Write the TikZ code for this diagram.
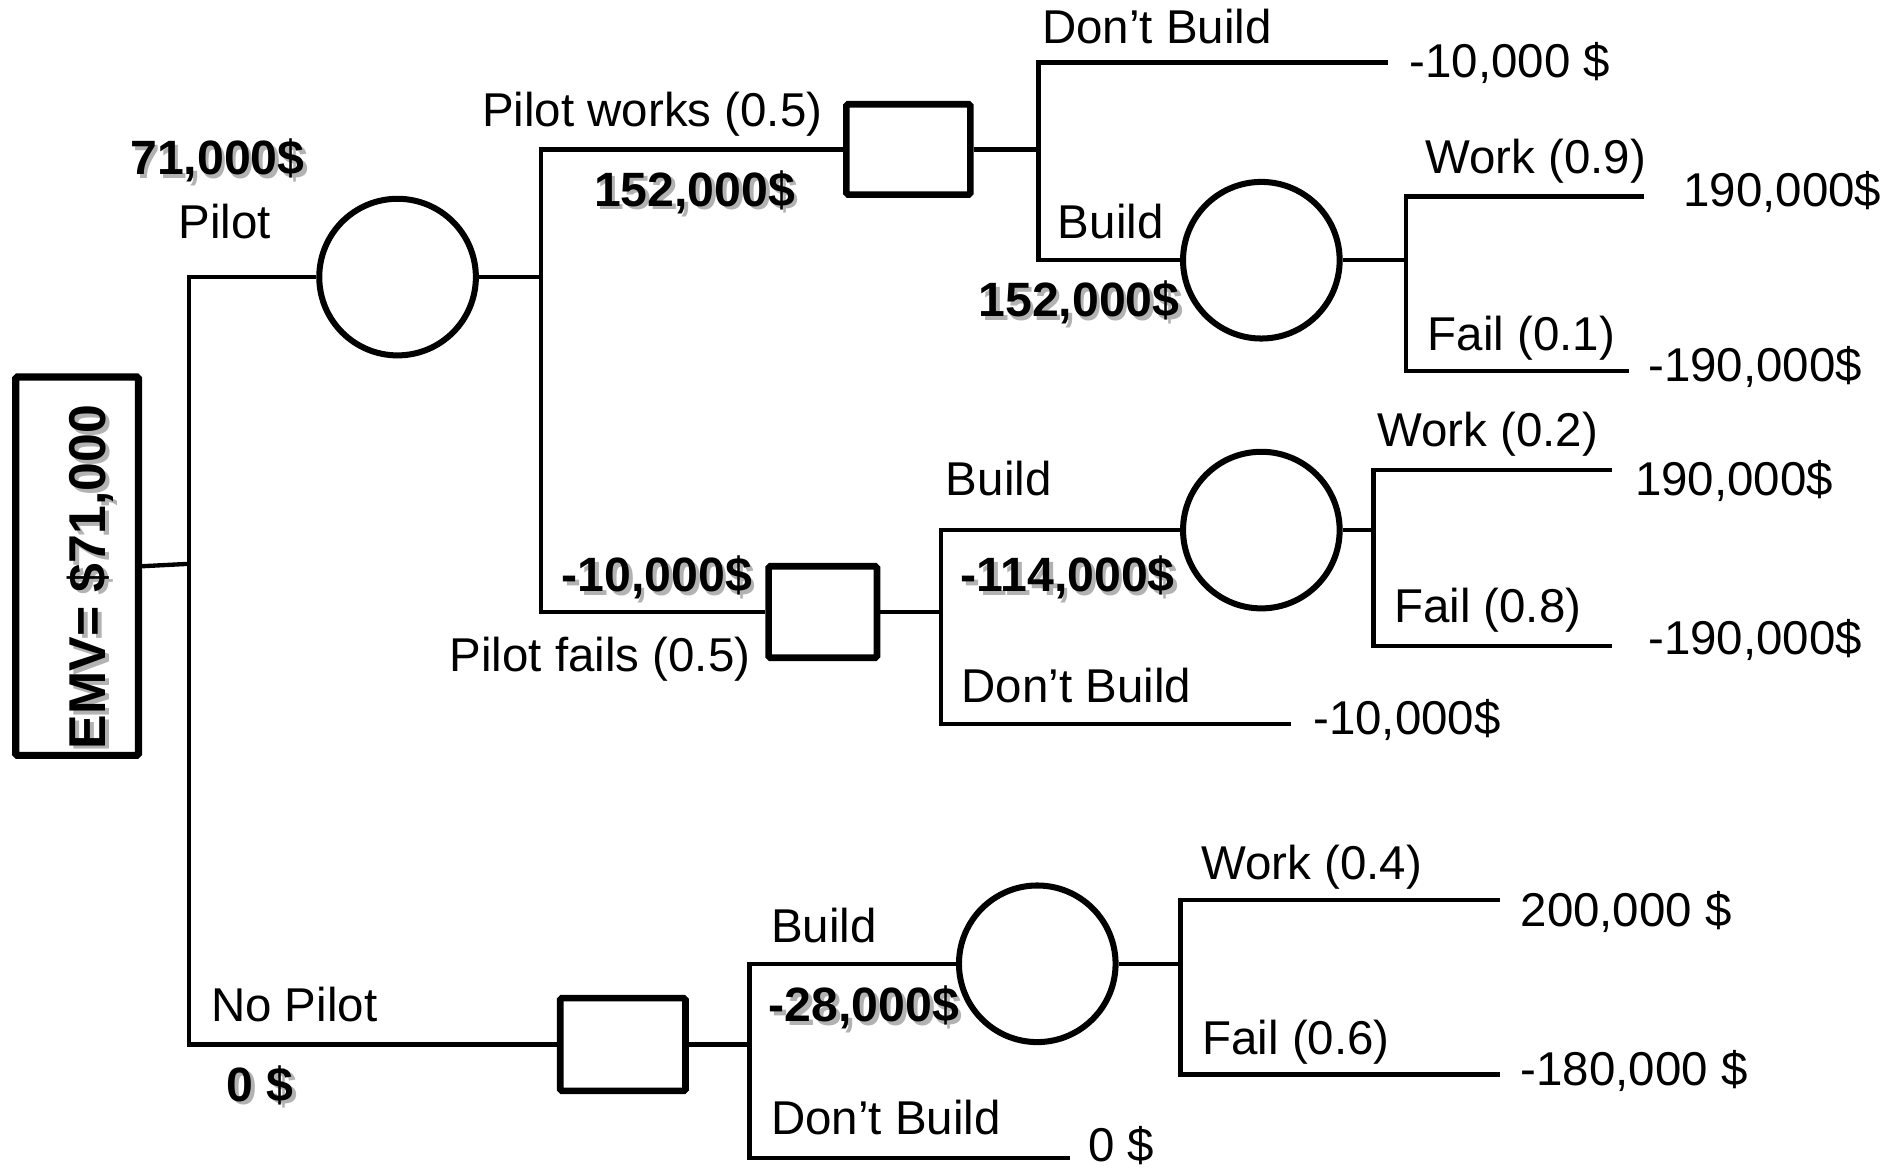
\documentclass[tikz,border=0pt]{standalone}
\usepackage{fontspec}
\setmainfont{Liberation Sans}
\begin{document}
\begin{tikzpicture}[x=1pt,y=-1pt,
  conn/.style={line width=3.6pt},
  chance/.style={circle,draw,line width=5pt,minimum size=130pt,inner sep=0pt},
  decision/.style={rectangle,draw,line width=5.5pt,inner sep=0pt,rounded corners=1.5pt},
  lbl/.style={font=\fontsize{39.4}{47}\selectfont,inner sep=0pt,anchor=base west},
  bold/.style={font=\fontsize{40}{48}\selectfont\bfseries,inner sep=0pt,anchor=base west},
  shade/.style={bold,text=black!30},
]
\fill[white] (0,0) rectangle (1568,972);
\useasboundingbox (0,0) rectangle (1568,972);

% ---------- shapes ----------
\node[decision,line width=6pt,minimum width=102pt,minimum height=314pt] (emv) at (64,470) {};
\node[chance] (c1) at (330,230) {};
\node[chance] (c2) at (1047,216) {};
\node[chance] (c3) at (1047,440) {};
\node[chance] (c4) at (861,800) {};
\node[decision,minimum width=103pt,minimum height=75pt] (d1) at (754,124) {};
\node[decision,minimum width=90pt,minimum height=76pt] (d2) at (683,508) {};
\node[decision,minimum width=104pt,minimum height=77pt] (d3) at (517,867) {};

% ---------- junctions and end points ----------
\coordinate (j0) at (157,468);
\coordinate (j1) at (449,230);
\coordinate (j2) at (862,124);
\coordinate (j3) at (1167,216);
\coordinate (j4) at (781,508);
\coordinate (j5) at (1140,440);
\coordinate (j6) at (622,867);
\coordinate (j7) at (980,800);
\coordinate (e1) at (1152,52);
\coordinate (e2) at (1365,163);
\coordinate (e3) at (1352,308);
\coordinate (e4) at (1338,390);
\coordinate (e5) at (1338,536);
\coordinate (e6) at (1072,601);
\coordinate (e7) at (1245,747);
\coordinate (e8) at (1245,892);
\coordinate (e9) at (888,961);

% ---------- connectors ----------
\draw[conn] (emv.east) -- (j0);
\draw[conn] (c1.west) -| (j0) |- (d3.west);
\draw[conn] (c1.east) -- (j1);
\draw[conn] (d1.west) -| (j1) |- (d2.west);
\draw[conn] (d1.east) -- (j2);
\draw[conn] (e1) -| (j2) |- (c2.west);
\draw[conn] (c2.east) -- (j3);
\draw[conn] (e2) -| (j3) |- (e3);
\draw[conn] (d2.east) -- (j4);
\draw[conn] (c3.west) -| (j4) |- (e6);
\draw[conn] (c3.east) -- (j5);
\draw[conn] (e4) -| (j5) |- (e5);
\draw[conn] (d3.east) -- (j6);
\draw[conn] (c4.west) -| (j6) |- (e9);
\draw[conn] (c4.east) -- (j7);
\draw[conn] (e7) -| (j7) |- (e8);

% ---------- bold values with shadow ----------
\node[shade,anchor=center,rotate=90,font=\fontsize{43}{50}\selectfont\bfseries] (emvs) at (78,482) {EMV= \$71,000};
\node[bold,anchor=center,rotate=90,font=\fontsize{43}{50}\selectfont\bfseries] (emvt) at (75,479) {EMV= \$71,000};

\node[shade] (v1s) at (111,148) {71,000\$};
\node[bold] (v1) at (108,145) {71,000\$};
\node[shade] (v2s) at (496,174) {152,000\$};
\node[bold] (v2) at (493,171) {152,000\$};
\node[shade] (v3s) at (815,266) {152,000\$};
\node[bold] (v3) at (812,263) {152,000\$};
\node[shade] (v4s) at (469,494) {-10,000\$};
\node[bold] (v4) at (466,491) {-10,000\$};
\node[shade] (v5s) at (800,494) {-114,000\$};
\node[bold] (v5) at (797,491) {-114,000\$};
\node[shade] (v6s) at (641,851) {-28,000\$};
\node[bold] (v6) at (638,848) {-28,000\$};
\node[shade] (v7s) at (191,917) {0 \$};
\node[bold] (v7) at (188,914) {0 \$};

% ---------- labels ----------
\node[lbl] (lpilot) at (148,198) {Pilot};
\node[lbl] (lpw) at (400,105) {Pilot works (0.5)};
\node[lbl] (ldb1) at (865,36) {Don’t Build};
\node[lbl] (o1) at (1170,64) {-10,000 \$};
\node[lbl] (lb1) at (878,198) {Build};
\node[lbl] (lw1) at (1183,144) {Work (0.9)};
\node[lbl] (o2) at (1397,171) {190,000\$};
\node[lbl] (lf1) at (1185,291) {Fail (0.1)};
\node[lbl] (o3) at (1368,317) {-190,000\$};
\node[lbl] (lpf) at (373,557) {Pilot fails (0.5)};
\node[lbl] (lb2) at (785,411) {Build};
\node[lbl] (lw2) at (1143,371) {Work (0.2)};
\node[lbl] (o4) at (1357,411) {190,000\$};
\node[lbl] (lf2) at (1157,517) {Fail (0.8)};
\node[lbl] (o5) at (1368,543) {-190,000\$};
\node[lbl] (ldb2) at (798,583) {Don’t Build};
\node[lbl] (o6) at (1090,610) {-10,000\$};
\node[lbl] (lnp) at (175,848) {No Pilot};
\node[lbl] (lb3) at (640,782) {Build};
\node[lbl] (lw3) at (997,730) {Work (0.4)};
\node[lbl] (o7) at (1262,769) {200,000 \$};
\node[lbl] (lf3) at (998,875) {Fail (0.6)};
\node[lbl] (o8) at (1262,901) {-180,000 \$};
\node[lbl] (ldb3) at (640,942) {Don’t Build};
\node[lbl] (o9) at (903,964) {0 \$};
\end{tikzpicture}
\end{document}
